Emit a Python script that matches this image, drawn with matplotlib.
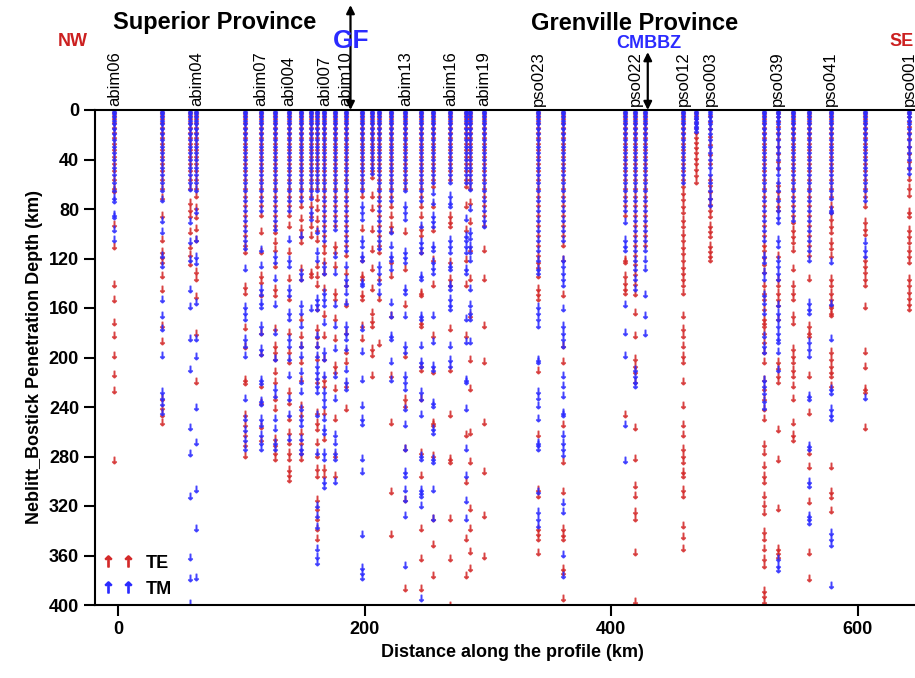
import matplotlib
matplotlib.use("Agg")
import matplotlib.pyplot as plt
from matplotlib.lines import Line2D

plt.rcParams['font.family'] = ['Liberation Sans', 'DejaVu Sans']

# station positions along the profile (km) and labels ('' = unlabelled)
station_km = [-3, 36, 58, 63.5, 103, 115.8, 127.1, 138.5, 148.3, 156.6,
              161.7, 167.4, 176.3, 185, 198.2, 205.8, 212, 221.2, 233.1, 245.5,
              255.3, 269.6, 282, 285.6, 297, 341, 361, 411.4, 419.7, 427.3,
              458.4, 469.2, 480.6, 524.4, 535.3, 547.4, 560.4, 578.2, 606.3, 641.8]
station_names = ['abim06', '', '', 'abim04', '', 'abim07', '', 'abi004', '', '',
                 '', 'abi007', '', 'abim10', '', '', '', '', 'abim13', '',
                 '', 'abim16', '', '', 'abim19', 'pso023', '', '', 'pso022', '',
                 'pso012', '', 'pso003', '', 'pso039', '', '', 'pso041', '', 'pso001']

# Niblett-Bostick penetration depths (km), one list per station
te_depth = [
    [1,3,6,9,13,17,21,26,31,36,42,48,55,62,65,92,110,141,153,171,182,198,213,226,283],
    [1,3,6,9,13,17,21,26,31,36,42,48,55,62,70,85,104,114,118,122,133,145,174,187,233,240,246,252],
    [1,3,6,9,13,17,21,26,31,36,42,48,55,62,74,80,85,98,110,116,124],
    [1,3,6,9,13,17,21,26,31,36,42,48,55,62,69,78,86,95,104,130,136,150,180,219],
    [1,3,6,9,13,17,21,26,31,36,42,48,55,62,69,76,84,92,100,108,114,142,147,175,191,217,220,246,254,262,270,279],
    [1,3,6,9,13,17,21,26,31,36,42,48,55,62,69,76,84,98,114,133,138,149,179,196,222,236,255,266],
    [1,3,6,9,13,17,21,26,31,36,42,48,55,62,69,76,84,92,98,106,112,125,144,149,176,190,195,200,211,219,233,241,265,270,276,281],
    [1,3,6,9,13,17,21,26,31,36,42,48,55,62,69,76,84,93,114,136,152,179,195,203,227,236,249,260,268,276,281,290,294,298],
    [1,3,6,9,13,17,21,26,31,36,42,48,55,62,69,77,87,95,101,106,128,136,168,182,190,203,217,238,246,260,268,276,281],
    [1,3,6,9,13,17,21,26,31,36,42,48,55,62,69,77,85,93,101,131,133],
    [1,3,6,9,13,17,21,26,31,36,42,48,55,62,71,79,88,96,104,125,133,141,160,176,183,190,200,219,244,252,257,268,279,289,295,314,322,330,338,346],
    [1,3,6,9,13,17,21,26,31,36,42,48,55,62,69,76,84,92,100,108,114,122,131,144,165,182,200,217,222,244,265,289,295],
    [1,3,6,9,13,17,21,26,31,36,42,48,55,62,69,76,84,92,109,114,125,147,152,168,184,206,211,225,249,279,295],
    [1,3,6,9,13,17,21,26,31,36,42,48,55,62,69,76,84,92,100,108,116,131,141,157,179,195,203,222,241],
    [1,3,6,9,13,17,21,26,31,36,42,48,55,62,69,95,120,133,136,149,152,174,184],
    [1,3,6,9,13,17,21,26,31,36,42,48,53,69,79,96,112,128,144,163,170,174,192,197,214],
    [1,3,6,9,13,17,21,26,31,36,42,48,55,62,69,76,84,92,100,108,114,136,152,188],
    [1,3,6,9,13,17,21,26,31,36,42,48,55,62,69,77,85,93,97,122,133,166,214,252,308,343],
    [1,3,6,9,13,17,21,26,31,36,42,48,55,62,98,128,157,198,233,238,273,314,386],
    [1,3,6,9,13,17,21,26,31,36,42,48,55,62,69,77,85,95,100,114,147,149,171,174,206,209,233,276,295,338,362,386],
    [1,3,6,9,13,17,21,26,31,36,42,48,55,61,77,96,120,141,182,211,252,254,279,330,351,376],
    [1,3,6,9,13,17,21,26,31,36,42,48,55,85,90,93,122,136,141,176,209,246,281,284,330,362,400],
    [1,3,6,9,13,17,21,26,31,36,42,48,55,61,77,96,120,141,182,262,300,346,376],
    [1,3,6,9,13,17,21,26,31,36,42,48,55,62,74,90,112,136,166,201,225,260,284,322,338,356,370],
    [1,3,6,9,13,17,21,26,31,36,42,48,55,62,69,76,84,92,112,136,174,203,252,292,327,360],
    [1,3,6,9,13,17,21,26,31,36,42,48,55,62,69,76,84,92,100,108,116,122,126,133,144,148,152,210,262,306,311,338,342,346,357],
    [1,3,6,9,13,17,21,26,31,36,42,48,55,62,69,76,84,92,100,108,120,149,190,203,254,284,308,338,343,346,370,373,394],
    [1,3,6,9,13,17,21,26,31,36,42,48,55,62,69,76,84,120,122,133,139,144,147,246],
    [1,3,6,9,13,17,21,26,31,36,42,48,55,62,69,76,84,92,100,108,116,124,132,140,148,163,182,200,206,211,219,256,281,303,311,324,330,357,397],
    [1,3,6,9,13,17,21,26,31,36,42,48,55,62,69,76,84,92,100,108],
    [1,3,6,9,13,17,21,26,31,36,42,48,55,61,66,71,77,82,88,93,99,104,110,115,120,126,131,136,141,147,166,176,182,190,198,203,219,238,254,262,273,279,284,292,295,306,311,335,344,354],
    [1,3,6,9,13,17,21,25,29,33,38,42,47,52,57],
    [3,8,14,20,27,35,42,55,60,65,70,75,80,85,93,97,101,109,113,117,120],
    [1,3,6,9,13,17,21,26,31,36,42,48,55,62,69,76,84,92,100,108,112,118,124,130,141,147,152,160,168,171,174,179,187,195,203,217,225,233,241,249,270,276,287,295,300,311,318,325,340,346,354,362,368,388,392,397],
    [1,4,8,12,17,22,28,34,40,46,60,65,70,77,80,117,136,141,147,152,157,168,203,208,214,219,258,282,322,354,357,360],
    [1,3,6,9,13,17,21,26,31,36,42,48,55,62,69,76,84,90,96,101,106,112,128,141,147,152,166,171,192,198,203,209,214,222,233,252,262,266],
    [1,3,6,9,13,17,21,26,31,36,42,48,55,62,69,76,84,92,100,108,116,136,174,179,182,214,244,276,288,316,357,378],
    [1,3,6,9,13,17,21,26,31,36,42,48,55,62,69,77,82,87,93,98,106,111,117,136,141,147,152,157,158,163,165,195,200,206,211,214,222,288,308,312,323],
    [1,3,6,9,13,17,21,26,31,36,42,48,55,62,69,77,90,95,99,120,125,130,136,141,158,195,207,225,227,256],
    [1,4,8,12,17,22,28,34,40,46,55,62,68,82,85,96,101,106,112,117,122,136,141,146,151,156,160],
]
tm_depth = [
    [0,2,4,7,10,14,18,23,28,33,39,45,51,57,64,70,73,84,86,96,104],
    [0,2,4,7,10,14,18,23,28,33,39,45,51,57,64,72,89,98,117,125,153,166,176,198,227,232,237,244],
    [0,2,4,7,10,14,18,23,28,33,39,45,51,57,63,90,106,120,145,158,184,209,256,277,312,361,378,398],
    [0,2,4,7,10,14,18,23,28,33,39,45,51,57,64,82,104,118,123,155,184,199,240,268,306,338,377],
    [0,2,4,7,10,14,18,23,28,33,39,45,51,57,64,72,80,88,96,104,111,128,158,163,168,184,190,198,233,249,258,266,273],
    [0,2,4,7,10,14,18,23,28,33,39,45,51,57,64,72,80,112,125,144,148,155,158,174,179,192,196,217,220,234,237,249,254,262,268,273],
    [0,2,4,7,10,14,18,23,28,33,39,45,51,57,64,72,80,88,95,117,122,136,157,179,200,225,230,249,257,268,273],
    [0,2,4,7,10,14,18,23,28,33,39,45,51,57,64,72,80,104,120,125,144,149,163,168,184,190,200,214,233,246,265],
    [0,2,4,7,10,14,18,23,28,33,39,45,51,57,64,72,101,131,136,157,163,174,190,198,211,219,227,241,249,254,265,273,276],
    [0,2,4,7,10,14,18,23,28,33,39,45,51,57,64,70,82,87,160],
    [0,2,4,7,10,14,18,23,28,33,39,45,51,57,64,98,114,120,152,156,160,182,190,198,206,211,216,222,227,246,276,319,327,336,354,360,365],
    [0,2,4,7,10,14,18,23,28,33,39,45,51,57,64,72,80,88,96,104,125,131,147,152,157,171,195,200,214,227,233,238,249,257,260,276,281,300,304],
    [0,2,4,7,10,14,18,23,28,33,39,45,51,57,64,72,80,88,95,117,131,157,174,192,214,233,262,268,276,281,300],
    [0,2,4,7,10,14,18,23,28,33,39,45,51,57,64,72,80,88,96,104,112,125,136,141,147,155,174,179,184,192,209,219,225],
    [0,2,4,7,10,14,18,23,28,33,39,45,51,57,64,77,82,87,104,109,117,120,139,141,176,195,217,238,249,253,281,292,343,369,373,377],
    [0,2,4,7,10,14,18,23,28,33,39,45,50],
    [0,2,4,7,10,14,18,23,28,33,39,45,51,57,64,72,80,88,96,104,111,125,131,139,147],
    [0,2,4,7,10,14,18,23,28,33,39,45,51,57,64,72,98,109,117,120,128,155,166,182,184,203,217],
    [0,2,4,7,10,14,18,23,28,33,39,45,51,57,64,77,82,87,114,118,122,144,147,166,190,195,214,219,225,241,254,273,292,295,306,314,327,368],
    [0,2,4,7,10,14,18,23,28,33,39,45,51,57,64,72,93,106,110,114,133,136,166,168,190,203,206,227,233,246,279,281,306,309,311,319,394],
    [0,2,4,7,10,14,18,23,28,33,39,45,51,57,66,74,85,89,93,109,112,122,127,131,166,187,206,209,236,238,257,260,281,284,306,330],
    [0,2,4,7,10,14,18,23,28,33,39,45,51,57,69,74,77,104,109,114,125,128,141,144,152,157,160,190,201,206],
    [0,2,4,7,10,14,18,23,28,33,39,45,51,57,87,101,104,109,114,128,131,168,187,217,219,241,273,295,315,330],
    [0,2,4,7,10,14,18,23,28,33,39,45,51,57,63,79,98,103,109,114,120,144,157,163,168,187],
    [0,2,4,7,10,14,18,23,28,33,39,45,51,57,64,72,80,88,93],
    [0,2,4,7,10,14,18,23,28,33,39,45,51,57,64,72,80,88,96,104,112,120,128,131,158,163,168,174,201,203,227,232,238,249,268,270,273,308,324,330,335],
    [0,2,4,7,10,14,18,23,28,33,39,45,51,57,64,72,80,88,96,104,120,125,131,136,141,160,174,179,184,190,214,222,230,244,246,262,268,273,278,317,324,359,376],
    [0,2,4,7,10,14,18,23,28,33,39,45,51,57,64,72,80,90,104,109,112,157,179,198,254,283],
    [0,2,4,7,10,14,18,23,28,33,39,45,51,57,64,72,80,88,96,104,112,120,128,136,144,209,214,219,222],
    [0,2,4,7,10,14,18,23,28,33,39,45,51,57,64,72,80,88,96,104,112,120,128,149,166,180],
    [0,2,4,7,10,14,18,23,28,33,39,45,51,57],
    [0,2,4,6,8,10,12,14,16],
    [0,2,4,7,10,14,18,23,28,33,39,45,51,57,64,70,76],
    [0,2,4,7,10,14,18,23,28,33,39,45,51,57,64,72,80,88,96,104,117,122,130,136,149,155,163,182,190,195,217,222,228,234,240],
    [0,2,4,7,10,14,18,23,28,33,39,45,51,57,64,72,80,86,90,104,109,120,125,131,136,157,163,168,174,179,184,187,195,209,362,368,371],
    [0,2,4,7,10,14,18,23,28,33,39,45,51,57,64,72,80,88],
    [0,2,4,7,10,14,18,23,28,33,39,45,51,57,64,72,80,88,96,104,112,120,155,160,163,187,192,198,230,233,271,273,300,303,327,330,333],
    [0,2,4,7,10,14,18,23,28,33,39,45,51,57,64,70,80,82,122,156,184,225,228,241,246,249,341,346,351,384],
    [0,2,4,7,10,14,18,23,28,33,39,45,51,57,64,72,106,112,117,232],
    [0,2,4,7,10,14,18,23,28,33,39,45,50],
]

red = '#d42a2a'
blue = '#2b2bff'
arrow_down = r'$\downarrow$'
arrow_up = r'$\uparrow$'

fig = plt.figure(figsize=(9.15, 6.78), dpi=100)
W, H = 915, 678
# axes runs past the right edge of the figure, like the cropped original
ax = fig.add_axes([95 / W, (H - 605) / H, 835 / W, 495 / H])

te_x, te_y, tm_x, tm_y = [], [], [], []
for x, te, tm in zip(station_km, te_depth, tm_depth):
    te_x += [x] * len(te)
    te_y += te
    tm_x += [x] * len(tm)
    tm_y += tm

ax.plot(te_x, te_y, ls='none', marker=arrow_down, ms=4.8, color=red, alpha=0.75)
ax.plot(tm_x, tm_y, ls='none', marker=arrow_down, ms=4.8, color=blue, alpha=0.75)

ax.set_xlim(-18.7, 658.8)
ax.set_ylim(400, 0)
ax.set_yticks(range(0, 401, 40))
ax.set_xticks([0, 200, 400, 600])
ax.tick_params(direction='out', length=8, width=1.5, labelsize=13)
for lab in ax.get_xticklabels() + ax.get_yticklabels():
    lab.set_fontweight('bold')
for s in ax.spines.values():
    s.set_linewidth(1.5)

ax.set_xlabel('Distance along the profile (km)', fontsize=13, fontweight='bold')
ax.set_ylabel('Neblitt_Bostick Penetration Depth (km)', fontsize=13, fontweight='bold')

# station names above the top axis
for x, name in zip(station_km, station_names):
    if name:
        ax.text(x, 1.008, name, transform=ax.get_xaxis_transform(), rotation=90,
                ha='center', va='bottom', fontsize=12, clip_on=False)

# province / boundary annotations
fig.text(215 / W, 1 - 23 / H, 'Superior Province', ha='center', va='center',
         fontsize=17, fontweight='bold')
fig.text(635 / W, 1 - 23 / H, 'Grenville Province', ha='center', va='center',
         fontsize=17, fontweight='bold')
fig.text(73 / W, 1 - 42 / H, 'NW', ha='center', va='center', fontsize=13,
         fontweight='bold', color='#cc2020')
fig.text(889 / W, 1 - 42 / H, 'SE', ha='left', va='center', fontsize=13,
         fontweight='bold', color='#cc2020')
fig.text(351 / W, 1 - 41 / H, 'GF', ha='center', va='center', fontsize=19,
         fontweight='bold', color=blue)
fig.text(649 / W, 1 - 44 / H, 'CMBBZ', ha='center', va='center', fontsize=13,
         fontweight='bold', color=blue)

ax.annotate('', xy=(188.6, 1.0), xytext=(188.6, 1.212),
            xycoords=('data', 'axes fraction'), textcoords=('data', 'axes fraction'),
            arrowprops=dict(arrowstyle='<|-|>', color='black', lw=1.6,
                            shrinkA=0, shrinkB=0, mutation_scale=12))
ax.annotate('', xy=(429.8, 1.0), xytext=(429.8, 1.117),
            xycoords=('data', 'axes fraction'), textcoords=('data', 'axes fraction'),
            arrowprops=dict(arrowstyle='<|-|>', color='black', lw=1.6,
                            shrinkA=0, shrinkB=0, mutation_scale=12))

handles = [Line2D([], [], ls='none', marker=arrow_up, ms=8, color=red),
           Line2D([], [], ls='none', marker=arrow_up, ms=8, color=blue)]
leg = ax.legend(handles, ['TE', 'TM'], loc='lower left', numpoints=2,
                frameon=False, prop={'weight': 'bold', 'size': 13},
                handlelength=1.7, handletextpad=0.7, labelspacing=0.5,
                borderaxespad=0.1, borderpad=0.3)

fig.savefig('out.png', dpi=100)
